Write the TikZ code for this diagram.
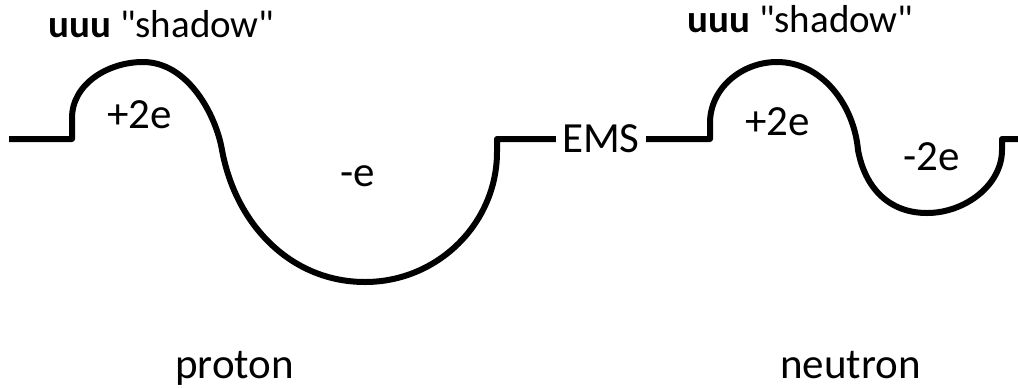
\documentclass[tikz,border=0pt]{standalone}
\usepackage{fontspec}
\setmainfont{Carlito}[Ligatures=TeXOff]
\usepackage{tikz}
\usetikzlibrary{positioning}

\begin{document}
\begin{tikzpicture}[
  x=0.5pt, y=-0.5pt,
  wave/.style={line width=3pt, line join=round},
  lbl/.style={inner sep=0pt, anchor=base west, font=\fontsize{21.5}{26}\selectfont},
  head/.style={lbl, font=\fontsize{19.5}{24}\selectfont},
]
  \useasboundingbox (0,0) rectangle (1018,387);

  % labels
  \node[head] (pshadow) at (48,37) {\textbf{uuu} "shadow"};
  \node[head] (nshadow) at (687,32) {\textbf{uuu} "shadow"};
  \node[lbl] (pplus) at (107,128) {+2e};
  \node[lbl] (pminus) at (340,186) {-e};
  \node[lbl] (nplus) at (745,135) {+2e};
  \node[lbl] (nminus) at (903,170) {-2e};
  \node[lbl] (proton) at (175,378) {proton};
  \node[lbl] (neutron) at (780,378) {neutron};
  \node[inner sep=3pt, font=\fontsize{21.5}{26}\selectfont] (ems) at (601,139) {EMS};

  % proton
  \coordinate (pstart) at (9,139);
  \coordinate (pstep) at (72,139);
  \coordinate (ptop) at (143,62);
  \coordinate (pturn) at (222,150);
  \coordinate (pbottom) at (365,282);
  \coordinate (pend) at (497,139);
  \draw[wave] (pstart) -- (pstep) -- (72,118)
    .. controls (72,84) and (108,62) .. (ptop)
    .. controls (188,62) and (216,115) .. (pturn)
    .. controls (236,226) and (292,282) .. (pbottom)
    .. controls (438,282) and (497,223) .. (497,152)
    -- (pend) -- (ems.west);

  % neutron
  \coordinate (nstep) at (710,139);
  \coordinate (ntop) at (777,62);
  \coordinate (nturn) at (858,150);
  \coordinate (nbottom) at (927,213);
  \coordinate (nend) at (1018,139);
  \draw[wave] (ems.east) -- (nstep) -- (710,123)
    .. controls (710,88) and (742,62) .. (ntop)
    .. controls (822,62) and (854,105) .. (nturn)
    .. controls (865,188) and (889,213) .. (nbottom)
    .. controls (965,213) and (1002,185) .. (1002,150)
    -- (1002,139) -- (nend);
\end{tikzpicture}
\end{document}
